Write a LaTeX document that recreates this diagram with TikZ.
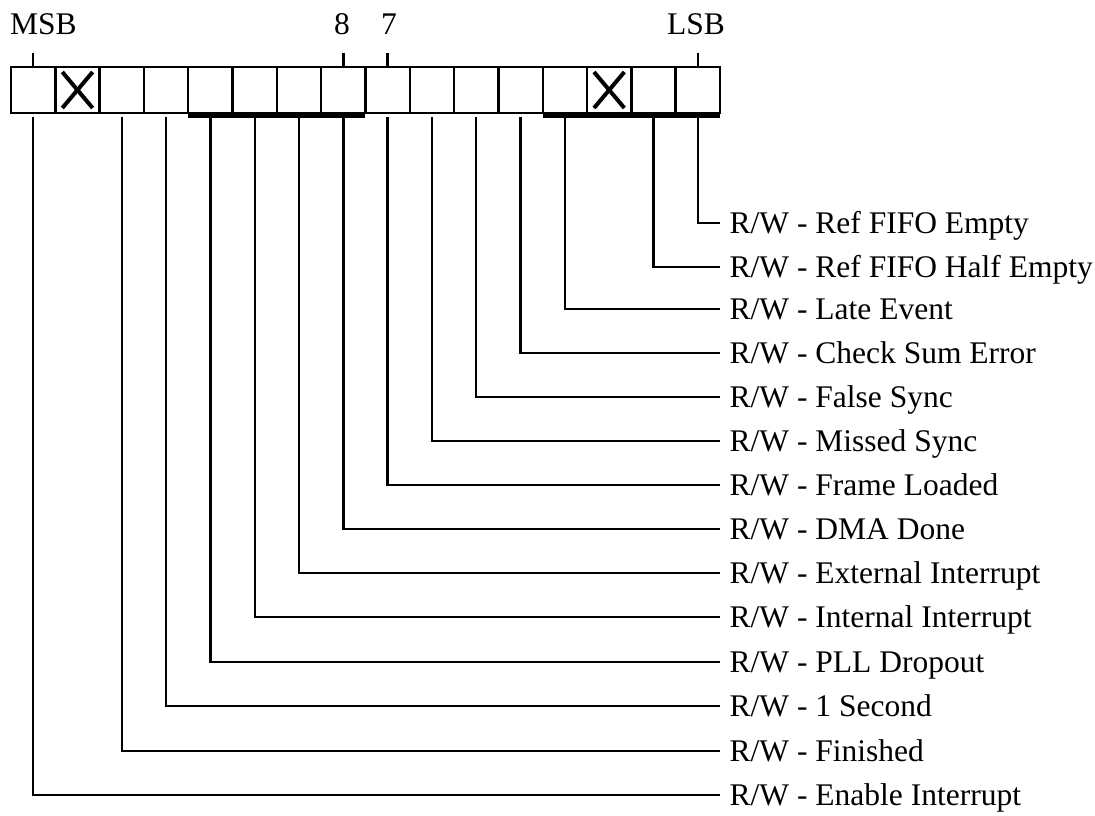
\documentclass[tikz,border=0pt]{standalone}
\usepackage{fontspec}
\setmainfont{Liberation Serif}
\begin{document}
\begin{tikzpicture}[x=1pt,y=-1pt,
  cell/.style={draw, line width=2.4pt, minimum width=44.31pt, minimum height=46pt, inner sep=0pt, outer sep=0pt},
  conn/.style={line width=2.4pt},
  xmark/.style={line width=4pt},
  bar/.style={line width=5pt},
  lbl/.style={anchor=west, inner xsep=9.5pt, inner ysep=0pt, text height=21pt, text depth=0pt, font=\fontsize{31.5}{36}\selectfont},
  toplbl/.style={inner sep=0pt, font=\fontsize{31.5}{36}\selectfont}]
\useasboundingbox (0,0) rectangle (1095,816);
% register cells
\foreach \i in {0,...,15} {
  \node[cell] (c\i) at ({11+44.31*(\i+0.5)},90) {};
}
% reserved bits
\foreach \i in {1,13} {
  \draw[xmark] ([xshift=7pt,yshift=-5pt]c\i.north west) -- ([xshift=-7pt,yshift=5pt]c\i.south east);
  \draw[xmark] ([xshift=-7pt,yshift=-5pt]c\i.north east) -- ([xshift=7pt,yshift=5pt]c\i.south west);
}
% group bars
\draw[bar] ([yshift=-2.5pt]c4.south west) -- ([yshift=-2.5pt]c7.south east);
\draw[bar] ([yshift=-2.5pt]c12.south west) -- ([yshift=-2.5pt]c15.south east);
% top ticks and labels
\foreach \i in {0,7,8,15} {
  \draw[conn] (c\i.north) -- ++(0,-14);
}
\node[toplbl, anchor=base west] (msb) at (10,35) {MSB};
\node[toplbl, anchor=base] (b8) at (342,35) {8};
\node[toplbl, anchor=base] (b7) at (389,35) {7};
\node[toplbl, anchor=base east] (lsb) at (725,35) {LSB};
% field labels
\node[lbl] (l0) at (720,223) {R/W - Ref FIFO Empty};
\node[lbl] (l1) at (720,267) {R/W - Ref FIFO Half Empty};
\node[lbl] (l2) at (720,309) {R/W - Late Event};
\node[lbl] (l3) at (720,353) {R/W - Check Sum Error};
\node[lbl] (l4) at (720,397) {R/W - False Sync};
\node[lbl] (l5) at (720,441) {R/W - Missed Sync};
\node[lbl] (l6) at (720,485) {R/W - Frame Loaded};
\node[lbl] (l7) at (720,529) {R/W - DMA Done};
\node[lbl] (l8) at (720,573) {R/W - External Interrupt};
\node[lbl] (l9) at (720,617) {R/W - Internal Interrupt};
\node[lbl] (l10) at (720,662) {R/W - PLL Dropout};
\node[lbl] (l11) at (720,706) {R/W - 1 Second};
\node[lbl] (l12) at (720,751) {R/W - Finished};
\node[lbl] (l13) at (720,795) {R/W - Enable Interrupt};
% connectors
\foreach \c/\l in {15/0,14/1,12/2,11/3,10/4,9/5,8/6,7/7,6/8,5/9,4/10,3/11,2/12,0/13} {
  \draw[conn] ([yshift=-4pt]c\c.south) |- (l\l.west);
}
\end{tikzpicture}
\end{document}
